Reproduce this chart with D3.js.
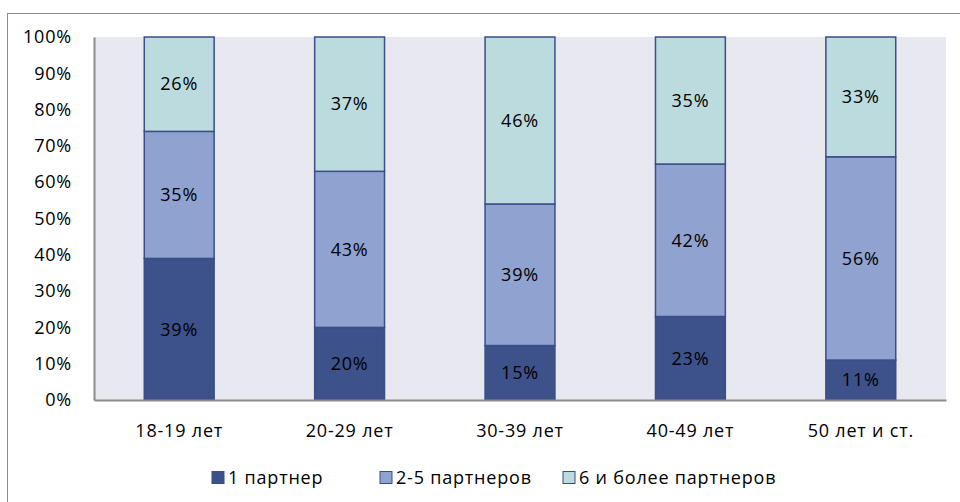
<!DOCTYPE html>
<html>
<head>
<meta charset="utf-8">
<script src="https://cdn.jsdelivr.net/npm/d3@7"></script>
<style>
  body { margin: 0; background: #fff; }
  text { font-family: "Open Sans", "Noto Sans", sans-serif; fill: #000; letter-spacing: 0.8px; }
</style>
</head>
<body>
<svg id="chart" width="960" height="502"></svg>
<script>
// data
const categories = ["18-19 лет", "20-29 лет", "30-39 лет", "40-49 лет", "50 лет и ст."];
const seriesNames = ["1 партнер", "2-5 партнеров", "6 и более партнеров"];
const onePartner = [39, 20, 15, 23, 11];
const twoToFive = [35, 43, 39, 42, 56];
const sixPlus = [26, 37, 46, 35, 33];
const yTicks = [0, 10, 20, 30, 40, 50, 60, 70, 80, 90, 100];

const colors = ["#3d518b", "#8fa2d0", "#bcdbdf"];
const strokeCol = "#3a4e88";
const fontSize = 18;

const svg = d3.select("#chart");

// outer frame
svg.append("rect")
    .attr("x", 7.5).attr("y", 13.5)
    .attr("width", 970).attr("height", 510)
    .attr("fill", "none").attr("stroke", "#8c8c8c").attr("stroke-width", 1);

const margin = {left: 94, top: 37, right: 14, bottom: 102};
const w = 960 - margin.left - margin.right;
const h = 502 - margin.top - margin.bottom;

const g = svg.append("g").attr("transform", "translate(" + margin.left + "," + margin.top + ")");

const x = d3.scaleBand().domain(categories).range([0, w]).paddingInner(0.59).paddingOuter(0.295);
const y = d3.scaleLinear().domain([0, 100]).range([h, 0]);

// plot background
g.append("rect").attr("x", 0).attr("y", 0).attr("width", w).attr("height", h).attr("fill", "#e8e8f1");

// build stacked data
const table = categories.map((c, i) => ({cat: c, s0: onePartner[i], s1: twoToFive[i], s2: sixPlus[i]}));
const stack = d3.stack().keys(["s0", "s1", "s2"]);
const layers = stack(table);

const layerG = g.selectAll(".layer")
    .data(layers)
    .enter().append("g")
    .attr("class", "layer")
    .attr("fill", (d, i) => colors[i]);

layerG.selectAll("rect")
    .data(d => d)
    .enter().append("rect")
    .attr("x", d => x(d.data.cat))
    .attr("y", d => y(d[1]))
    .attr("width", x.bandwidth())
    .attr("height", d => y(d[0]) - y(d[1]))
    .attr("stroke", strokeCol)
    .attr("stroke-width", 1.5);

layerG.selectAll("text")
    .data(d => d)
    .enter().append("text")
    .attr("x", d => x(d.data.cat) + x.bandwidth() / 2)
    .attr("y", d => (y(d[0]) + y(d[1])) / 2)
    .attr("dy", "0.35em")
    .attr("text-anchor", "middle")
    .attr("font-size", fontSize)
    .text(d => (d[1] - d[0]) + "%");

// axes
const yAxis = d3.axisLeft(y).tickValues(yTicks).tickSize(0).tickPadding(22).tickFormat(d => d + "%");
const yG = g.append("g").call(yAxis);
yG.select(".domain").attr("stroke", "#8c8c8c").attr("stroke-width", 2);
yG.selectAll("text").attr("font-size", fontSize).style("font-family", "'Open Sans', 'Noto Sans', sans-serif");

const xAxis = d3.axisBottom(x).tickSize(0).tickPadding(24);
const xG = g.append("g").attr("transform", "translate(0," + h + ")").call(xAxis);
xG.select(".domain").attr("stroke", "#8c8c8c").attr("stroke-width", 2);
xG.selectAll("text").attr("font-size", fontSize).style("font-family", "'Open Sans', 'Noto Sans', sans-serif");

// legend
const legendX = [212, 380, 563];
const legend = svg.append("g").selectAll("g")
    .data(seriesNames)
    .enter().append("g")
    .attr("transform", (d, i) => "translate(" + legendX[i] + ",478)");
legend.append("rect")
    .attr("x", 0).attr("y", -6.5).attr("width", 12).attr("height", 12)
    .attr("fill", (d, i) => colors[i])
    .attr("stroke", strokeCol).attr("stroke-width", 1);
legend.append("text")
    .attr("x", 16).attr("y", 0).attr("dy", "0.35em")
    .attr("font-size", fontSize)
    .text(d => d);
</script>
</body>
</html>
